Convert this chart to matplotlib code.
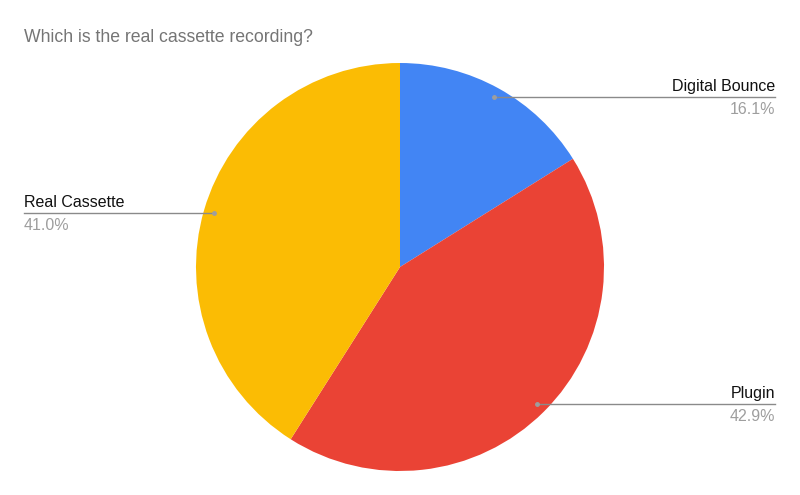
import numpy as np
import matplotlib
matplotlib.use("Agg")
import matplotlib.pyplot as plt

plt.rcParams['font.family'] = ['Liberation Sans', 'DejaVu Sans']

title = "Which is the real cassette recording?"
categories = ["Digital Bounce", "Plugin", "Real Cassette"]
values = [16.1, 42.9, 41.0]
colors = ["#4285F4", "#EA4335", "#FBBC04"]

W, H = 800, 495
fig = plt.figure(figsize=(W / 100, H / 100), dpi=100)

cx, cy, R = 400, 267, 204
ax = fig.add_axes([(cx - R) / W, (H - cy - R) / H, 2 * R / W, 2 * R / H])
wedges, _ = ax.pie(values, colors=colors, startangle=90, counterclock=False,
                   radius=1.0, wedgeprops=dict(linewidth=0))
ax.set_xlim(-1, 1)
ax.set_ylim(-1, 1)
ax.set_aspect('equal')
ax.axis('off')

def fx(px):
    return px / W

def fy(py):
    return 1 - py / H

fig.text(fx(24), fy(42), title, fontsize=12.7, color="#757575", va='baseline', ha='left')

total = sum(values)
for w, name, v in zip(wedges, categories, values):
    mid = np.deg2rad((w.theta1 + w.theta2) / 2)
    dx, dy = 0.95 * np.cos(mid), 0.95 * np.sin(mid)
    disp = ax.transData.transform((dx, dy))
    fxy = fig.transFigure.inverted().transform(disp)
    px, py = fxy[0] * W, (1 - fxy[1]) * H
    right = dx >= 0
    end_x = 775 if right else 24
    fig.add_artist(plt.Line2D([fx(px), fx(end_x)], [fy(py), fy(py)],
                              transform=fig.transFigure, color="#8a8a8a", lw=1.0))
    fig.add_artist(plt.Line2D([fx(px)], [fy(py)], transform=fig.transFigure,
                              marker='o', markersize=2.5, color="#9e9e9e", lw=0))
    ha = 'right' if right else 'left'
    fig.text(fx(end_x), fy(py - 6), name, fontsize=11.5, color="#111111",
             ha=ha, va='baseline')
    fig.text(fx(end_x), fy(py + 17), f"{v / total * 100:.1f}%", fontsize=11.5,
             color="#9e9e9e", ha=ha, va='baseline')

fig.savefig("out.png", dpi=100, facecolor="white")
